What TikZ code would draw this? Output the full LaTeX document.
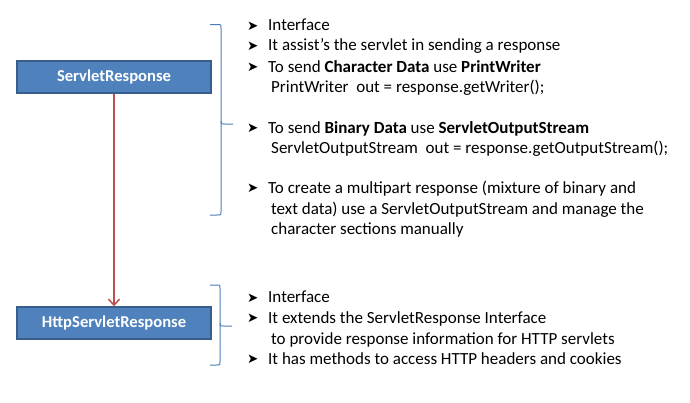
\documentclass[tikz,border=0pt]{standalone}
\usepackage{fontspec}
\setmainfont{Carlito}
\newfontfamily\symfont{DejaVu Sans}
\usetikzlibrary{arrows.meta}
\definecolor{boxfill}{HTML}{4F81BD}
\definecolor{boxline}{HTML}{385D8A}
\definecolor{arrowred}{HTML}{C0504D}
\definecolor{bracecol}{HTML}{4A7EBB}
\begin{document}
\begin{tikzpicture}[x=1pt,y=-1pt,
 cls/.style={draw=boxline, fill=boxfill, line width=1.5pt, minimum width=194pt, minimum height=32pt, inner sep=0pt, text=white, font=\fontsize{16.6}{18}\selectfont\bfseries},
 txt/.style={anchor=base west, inner sep=0pt, font=\fontsize{17}{20}\selectfont},
 bul/.style={anchor=base west, inner sep=0pt, font=\symfont\fontsize{13.5}{15}\selectfont},
 bracepath/.style={draw=bracecol, line width=1pt},
 inherit/.style={draw=arrowred, line width=1.5pt, -{Straight Barb[length=6pt,width=11pt]}}]
\useasboundingbox (0,0) rectangle (690,402);
% class boxes
\node[cls] (sr) at (114,77) {ServletResponse};
\node[cls] (hsr) at (114,323) {HttpServletResponse};
\draw[inherit] (sr.south) -- (hsr.north);
% braces
\draw[bracepath] (210,24.5) -- (217,24.5) .. controls (221,24.5) .. (221,28) -- (221,211.5) .. controls (221,215) .. (217,215) -- (210,215);
\draw[bracepath] (221,121) .. controls (221,124) .. (225,124) -- (233,124);
\draw[bracepath] (210,285) -- (216,285) .. controls (220,285) .. (220,288.5) -- (220,361.5) .. controls (220,365) .. (216,365) -- (210,365);
\draw[bracepath] (220,323) .. controls (220,326) .. (224,326) -- (232,326);
% first group
\node[bul] (b1) at (247,30) {➤};
\node[txt] (t1) at (268,30.7) {Interface};
\node[bul] (b2) at (247,50) {➤};
\node[txt] (t2) at (268,50.7) {It assist’s the servlet in sending a response};
\node[bul] (b3) at (247,71.6) {➤};
\node[txt] (t3) at (268,72.3) {To send \textbf{Character Data} use \textbf{PrintWriter}};
\node[txt] (t4) at (271,92.7) {PrintWriter\ \ out = response.getWriter();};
\node[bul] (b5) at (247,132.6) {➤};
\node[txt] (t5) at (268,133.3) {To send \textbf{Binary Data} use \textbf{ServletOutputStream}};
\node[txt] (t6) at (271,153.3) {ServletOutputStream\ \ out = response.getOutputStream();};
\node[bul] (b7) at (247,192.6) {➤};
\node[txt] (t7) at (268,193.3) {To create a multipart response (mixture of binary and};
\node[txt] (t8) at (271,214.3) {text data) use a ServletOutputStream and manage the};
\node[txt] (t9) at (271,234.3) {character sections manually};
% second group
\node[bul] (c1) at (247,302) {➤};
\node[txt] (u1) at (268,302.7) {Interface};
\node[bul] (c2) at (247,322.6) {➤};
\node[txt] (u2) at (268,323.3) {It extends the ServletResponse Interface};
\node[txt] (u3) at (271,344.3) {to provide response information for HTTP servlets};
\node[bul] (c4) at (247,363.6) {➤};
\node[txt] (u4) at (268,364.3) {It has methods to access HTTP headers and cookies};
\end{tikzpicture}
\end{document}
